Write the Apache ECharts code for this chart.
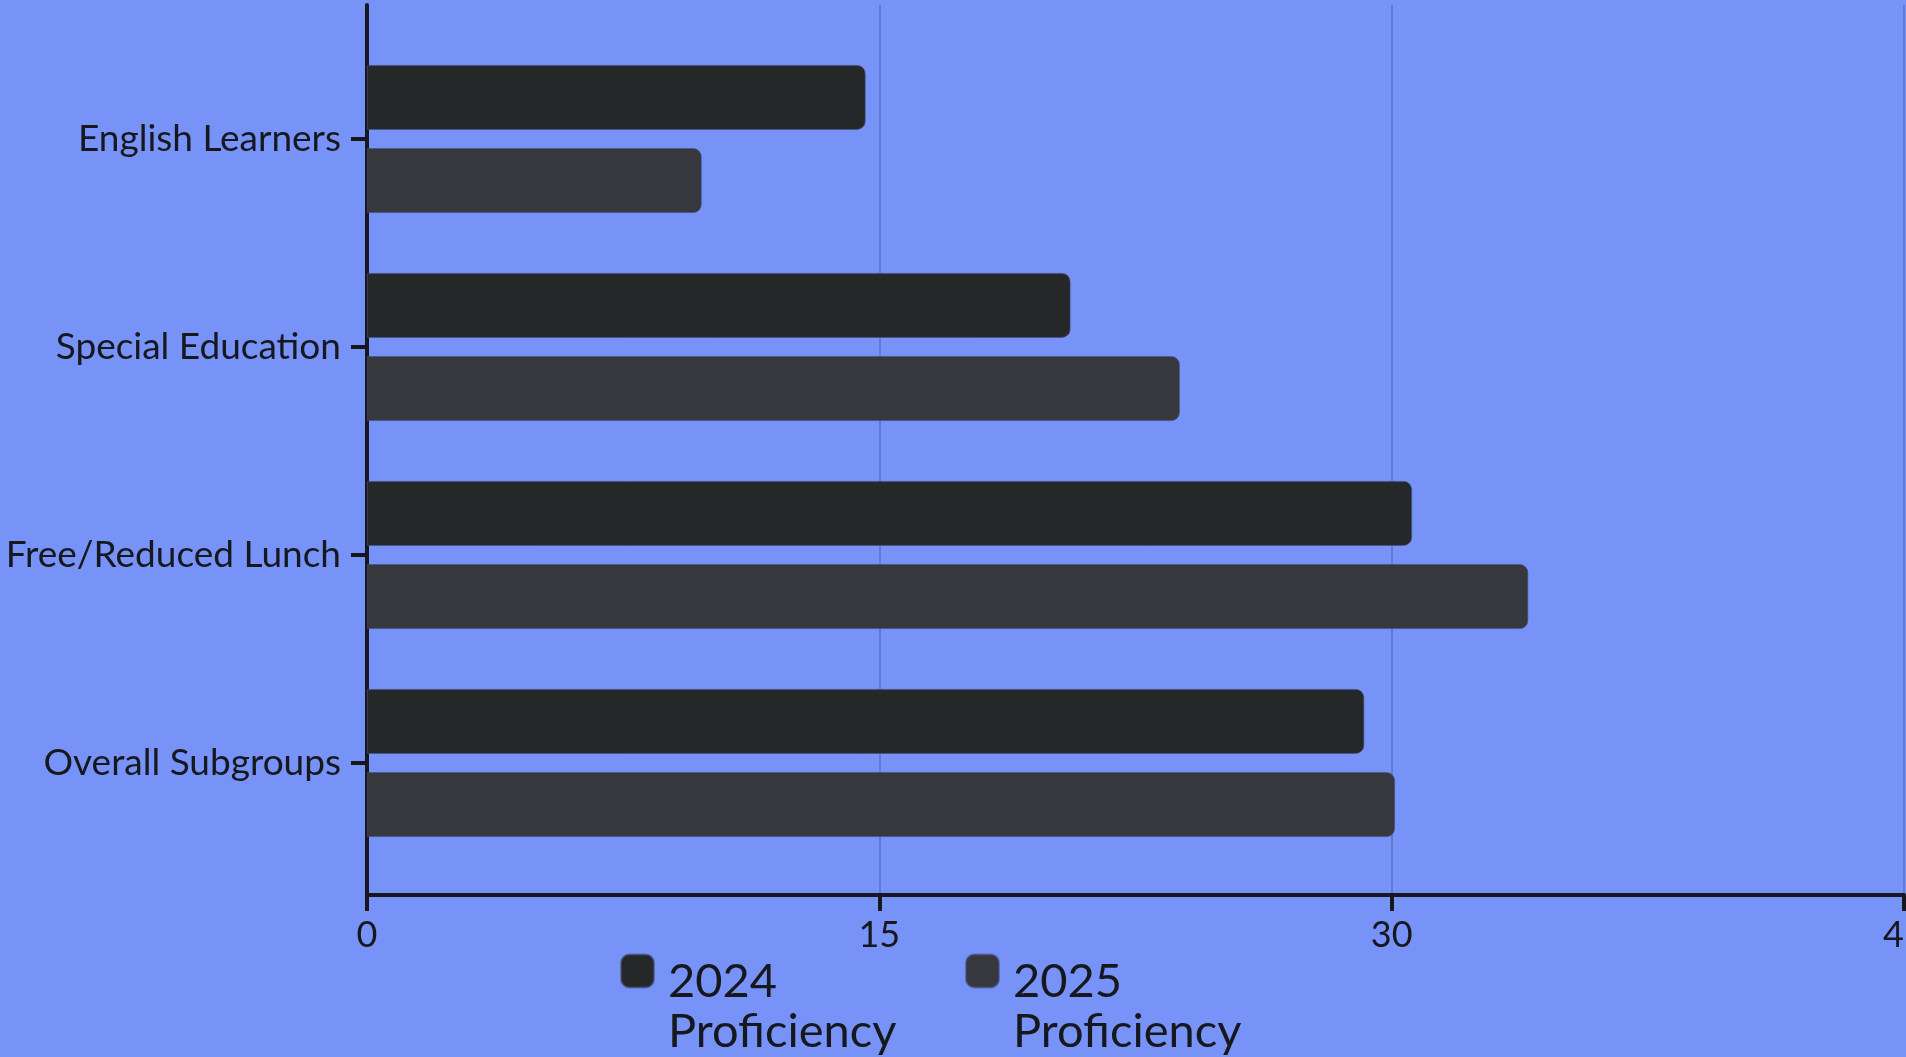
<!DOCTYPE html>
<html>
<head>
<meta charset="utf-8">
<script src="https://cdn.jsdelivr.net/npm/echarts@6/dist/echarts.min.js"></script>
<style>
html,body{margin:0;padding:0;background:#7793f8;}
#chart{width:1906px;height:1057px;}
</style>
</head>
<body>
<div id="chart"></div>
<script>
const categories = ['English Learners', 'Special Education', 'Free/Reduced Lunch', 'Overall Subgroups'];
const seriesNames = ['2024 Proficiency', '2025 Proficiency'];
const values2024 = [14.6, 20.6, 30.6, 29.2];
const values2025 = [9.8, 23.8, 34.0, 30.1];
const xMin = 0, xMax = 45, xInterval = 15;

const ink = '#16181d';
const font = 'Lato';
const legendText = {
  fontFamily: font, fontSize: 47, lineHeight: 48, color: ink, padding: [0, 0, 0, 9],
  rich: {
    s: {height: 72, lineHeight: 72, fontSize: 10},
    a: {fontFamily: font, fontSize: 47, lineHeight: 50, height: 50, color: ink}
  }
};
const legendFmt = n => '{s| }\n' + n.split(' ').map(w => '{a|' + w + '}').join('\n');
const chart = echarts.init(document.getElementById('chart'));
chart.setOption({
  backgroundColor: '#7793f8',
  animation: false,
  grid: [
    {left: 367, right: 2, top: 5, bottom: 162, containLabel: false, outerBoundsMode: 'none'},
    {left: 367, right: 2, top: 35, bottom: 190, containLabel: false, outerBoundsMode: 'none'}
  ],
  legend: [
    {data: [seriesNames[0]], left: 620, top: 885, padding: 0, icon: 'roundRect', itemWidth: 33, itemHeight: 33,
     formatter: legendFmt, textStyle: legendText},
    {data: [seriesNames[1]], left: 965, top: 885, padding: 0, icon: 'roundRect', itemWidth: 33, itemHeight: 33,
     formatter: legendFmt, textStyle: legendText}
  ],
  xAxis: [
    {type: 'value', gridIndex: 0, min: xMin, max: xMax, interval: xInterval,
     axisLine: {show: true, lineStyle: {color: ink, width: 4}},
     axisTick: {show: true, length: 16, lineStyle: {color: ink, width: 4}},
     axisLabel: {show: true, margin: 22, fontFamily: font, fontSize: 36, color: ink},
     splitLine: {show: true, lineStyle: {color: '#6079d2', width: 2}}},
    {type: 'value', gridIndex: 1, min: xMin, max: xMax, interval: xInterval, show: false}
  ],
  yAxis: [
    {type: 'value', gridIndex: 0, min: 0, max: 1,
     axisLine: {show: true, lineStyle: {color: ink, width: 4, cap: 'round'}},
     axisTick: {show: false}, axisLabel: {show: false}, splitLine: {show: false}},
    {type: 'category', gridIndex: 1, data: categories, inverse: true,
     axisLine: {show: false},
     axisTick: {show: true, alignWithLabel: true, length: 16, lineStyle: {color: ink, width: 4}},
     axisLabel: {show: true, margin: 26, fontFamily: font, fontSize: 37, color: ink},
     splitLine: {show: false}}
  ],
  series: [
    {name: seriesNames[0], type: 'bar', xAxisIndex: 1, yAxisIndex: 1, data: values2024,
     barWidth: 65, barGap: '28%',
     itemStyle: {color: '#252729', borderRadius: [0, 8, 8, 0], borderColor: 'rgba(70,80,120,0.6)', borderWidth: 1}},
    {name: seriesNames[1], type: 'bar', xAxisIndex: 1, yAxisIndex: 1, data: values2025,
     barWidth: 65, barGap: '28%',
     itemStyle: {color: '#37383d', borderRadius: [0, 8, 8, 0], borderColor: 'rgba(70,80,120,0.6)', borderWidth: 1}}
  ]
});
</script>
</body>
</html>
